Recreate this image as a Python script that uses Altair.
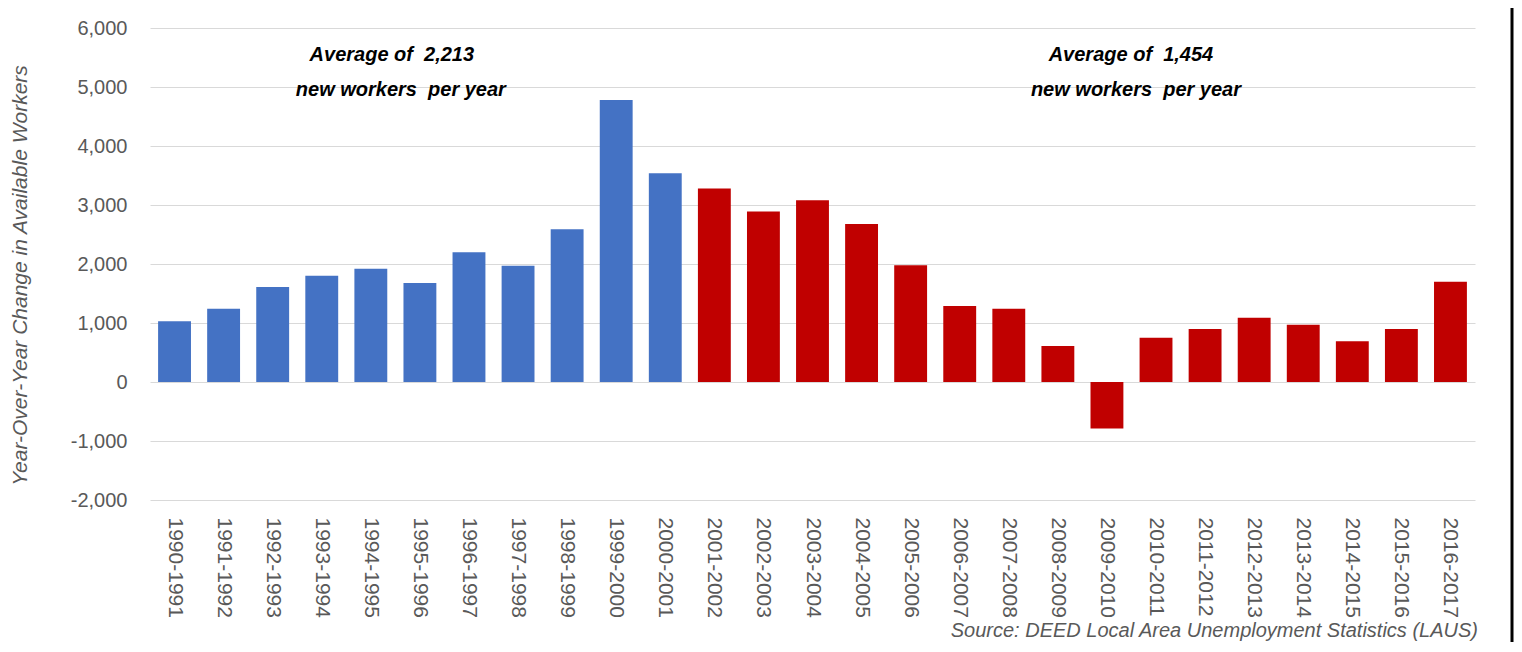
import altair as alt
import pandas as pd

periods = ["1990-1991", "1991-1992", "1992-1993", "1993-1994", "1994-1995", "1995-1996",
           "1996-1997", "1997-1998", "1998-1999", "1999-2000", "2000-2001", "2001-2002",
           "2002-2003", "2003-2004", "2004-2005", "2005-2006", "2006-2007", "2007-2008",
           "2008-2009", "2009-2010", "2010-2011", "2011-2012", "2012-2013", "2013-2014",
           "2014-2015", "2015-2016", "2016-2017"]
changes = [1030, 1240, 1610, 1800, 1920, 1680, 2200, 1970, 2590, 4780, 3540, 3280,
           2890, 3080, 2680, 1980, 1290, 1240, 610, -790, 750, 900, 1090, 970,
           690, 900, 1700]
eras = ["1990-2001"] * 11 + ["2001-2017"] * 16
era_names = ["1990-2001", "2001-2017"]
era_colors = ["#4472C4", "#C00000"]

NB = "\u00a0"
ann_period = ["1994-1995", "1994-1995", "2009-2010", "2009-2010"]
ann_value = [5550, 4950, 5550, 4950]
ann_text = ["Average of" + NB + " 2,213", "new workers" + NB + " per year",
            "Average of" + NB + " 1,454", "new workers" + NB + " per year"]
ann_dx = [21, 30, 24, 29]

source_text = "Source: DEED Local Area Unemployment Statistics (LAUS)"
y_title = "Year-Over-Year Change in Available Workers"
y_ticks = [-2000, -1000, 0, 1000, 2000, 3000, 4000, 5000, 6000]

FONT = "Liberation Sans"
GREY = "#595959"

df = pd.DataFrame({"period": periods, "change": changes, "era": eras})
ann = pd.DataFrame({"period": ann_period, "value": ann_value, "text": ann_text, "dx": ann_dx})

x_enc = alt.X("period:N", sort=periods,
              scale=alt.Scale(domain=periods, paddingInner=0.33, paddingOuter=0.165),
              axis=alt.Axis(title=None, labelAngle=90, labelAlign="left", labelBaseline="middle",
                            labelPadding=17, ticks=False, domain=False, labelFont=FONT,
                            labelFontSize=21, labelColor=GREY, grid=False))
y_scale = alt.Scale(domain=[-2000, 6000], nice=False, zero=False)

bars = alt.Chart(df).mark_bar().encode(
    x=x_enc,
    y=alt.Y("change:Q", scale=y_scale,
            axis=alt.Axis(values=y_ticks, title=y_title, grid=True,
                          labelExpr="datum.value < 0 ? '-' + format(-datum.value, ',') : format(datum.value, ',')",
                          gridColor="#d9d9d9", gridWidth=1, ticks=False, domain=False,
                          labelFont=FONT, labelFontSize=20, labelColor=GREY, labelPadding=23,
                          titleFont=FONT, titleFontSize=21, titleFontStyle="italic",
                          titleFontWeight="normal", titleColor=GREY, titleX=-120, titleY=247,
                          titleAngle=270, titleAlign="center", titleBaseline="bottom")),
    color=alt.Color("era:N", scale=alt.Scale(domain=era_names, range=era_colors), legend=None),
)

texts = []
for i in range(len(ann_text)):
    sub = ann.iloc[[i]]
    t = alt.Chart(sub).mark_text(font=FONT, fontSize=20, fontWeight="bold", fontStyle="italic",
                                 color="black", baseline="middle", align="center",
                                 dx=int(ann_dx[i])).encode(
        x=alt.X("period:N", sort=periods),
        y=alt.Y("value:Q"),
        text="text:N",
    )
    texts.append(t)

src = alt.Chart(pd.DataFrame({"t": [source_text]})).mark_text(
    font=FONT, fontSize=20, fontStyle="italic", color=GREY, align="right", baseline="middle"
).encode(text="t:N", x=alt.value(1328), y=alt.value(603))

edge = alt.Chart(pd.DataFrame({"k": [0]})).mark_rule(color="black", strokeWidth=3).encode(
    x=alt.value(1362), y=alt.value(-28), y2=alt.value(620))

chart = alt.layer(bars, *texts, src, edge).properties(
    width=1325, height=472,
    autosize=alt.AutoSizeParams(type="none"),
    padding={"left": 142, "top": 20, "right": 39, "bottom": 142},
    background="white",
).configure_view(stroke=None)

chart.save("out.html", embed_options={"renderer": "svg", "actions": False})
